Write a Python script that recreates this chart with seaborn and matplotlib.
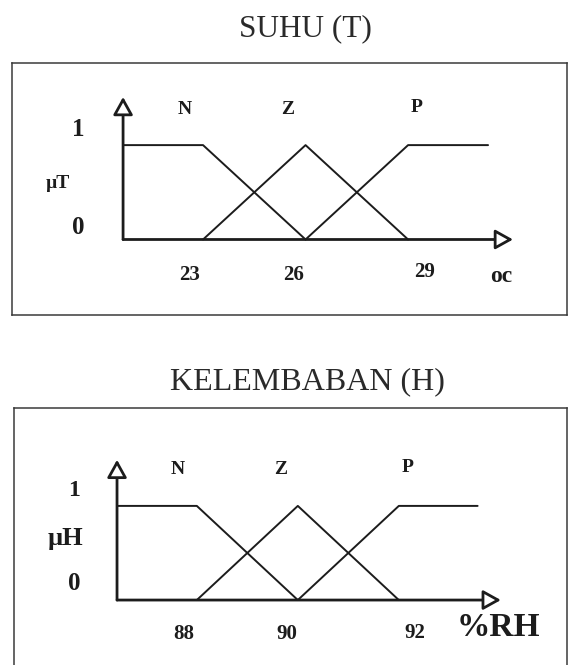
import numpy as np
import pandas as pd
import matplotlib
matplotlib.use("Agg")
import matplotlib.pyplot as plt
import seaborn as sns

# ── Data ──────────────────────────────────────────────────────────────────────
SETS = ["N", "Z", "P"]
N_MU = [1, 1, 0]
Z_MU = [0, 1, 0]
P_MU = [0, 1, 1]

TEMP_TICKS = [23, 26, 29]
TEMP_START, TEMP_END = 20.66, 31.34
TEMP_TICK_LABELS = ["23", "26", "29"]

HUM_TICKS = [88, 90, 92]
HUM_START, HUM_END = 86.42, 93.56
HUM_TICK_LABELS = ["88", "90", "92"]

# ── Config ────────────────────────────────────────────────────────────────────
W, H = 568, 665
INK = "#1c1c1c"
SERIF = ["Liberation Serif", "DejaVu Serif"]

sns.set_theme(style="white")
plt.rcParams["font.family"] = SERIF


def membership_frame(ticks, start, end):
    xs = {"N": [start, ticks[0], ticks[1]],
          "Z": [ticks[0], ticks[1], ticks[2]],
          "P": [ticks[1], ticks[2], end]}
    mus = {"N": N_MU, "Z": Z_MU, "P": P_MU}
    rows = []
    for s in SETS:
        for x, m in zip(xs[s], mus[s]):
            rows.append({"set": s, "x": x, "mu": m})
    return pd.DataFrame(rows)


def ftext(fig, x, y, s, **kw):
    # place text using reference pixel coordinates (origin top-left)
    fig.text(x / W, 1 - y / H, s, ha="center", va="center", **kw)


def draw_panel(fig, rect, ticks, start, end, xlim, ylim, x_tip, y_tip, hide_bottom=False):
    ax = fig.add_axes(rect)
    df = membership_frame(ticks, start, end)
    sns.lineplot(data=df, x="x", y="mu", hue="set", units="set", estimator=None,
                 sort=False, palette={s: INK for s in SETS}, legend=False,
                 linewidth=1.4, ax=ax)
    arrow = dict(arrowstyle="-|>,head_length=0.9,head_width=0.5", mutation_scale=12,
                 fc="white", ec=INK, lw=2.0, shrinkA=0, shrinkB=0)
    ax.annotate("", xy=(x_tip, 0), xytext=(start, 0), arrowprops=arrow)
    ax.annotate("", xy=(start, y_tip), xytext=(start, 0), arrowprops=arrow)
    ax.set_xlim(*xlim)
    ax.set_ylim(*ylim)
    ax.set_xlabel("")
    ax.set_ylabel("")
    ax.set_xticks([])
    ax.set_yticks([])
    for side, sp in ax.spines.items():
        sp.set_color("#3a3a3a")
        sp.set_linewidth(1.1)
    if hide_bottom:
        ax.spines["bottom"].set_visible(False)
    return ax


fig = plt.figure(figsize=(W / 100, H / 100), dpi=100)
fig.patch.set_facecolor("white")

# ── Panel 1: SUHU (T) ─────────────────────────────────────────────────────────
ax1 = draw_panel(fig, [12 / W, 1 - 315 / H, 555 / W, 252 / H],
                 TEMP_TICKS, TEMP_START, TEMP_END,
                 xlim=(17.41, 33.65), ylim=(-0.80, 1.87),
                 x_tip=32.07, y_tip=1.51)

ftext(fig, 305, 29, "SUHU (T)", fontsize=22.5, color="#2a2a2a")
for s, (x, y) in zip(SETS, [(185, 110), (288, 109), (417, 107)]):
    ftext(fig, x, y, s, fontsize=14, fontweight="bold", color=INK)
ftext(fig, 78, 130, "1", fontsize=18, fontweight="bold", color=INK)
ftext(fig, 58, 184, "µT", fontsize=14, fontweight="bold", color=INK)
ftext(fig, 78, 227, "0", fontsize=18, fontweight="bold", color=INK)
for t, lab, dx, dy in zip(TEMP_TICKS, TEMP_TICK_LABELS, [-13, -12, 16], [-36, -36, -33]):
    ax1.annotate(lab, xy=(t, 0), xytext=(dx, dy), textcoords="offset pixels",
                 ha="center", va="center", fontsize=15, fontweight="bold", color=INK)
ftext(fig, 501, 276, "oc", fontsize=17, fontweight="bold", color=INK)

# ── Panel 2: KELEMBABAN (H) ───────────────────────────────────────────────────
ax2 = draw_panel(fig, [14 / W, 0, 553 / W, 257 / H],
                 HUM_TICKS, HUM_START, HUM_END,
                 xlim=(84.38, 95.33), ylim=(-0.69, 2.04),
                 x_tip=94.02, y_tip=1.49, hide_bottom=True)

ftext(fig, 307, 382, "KELEMBABAN (H)", fontsize=23, color="#2a2a2a")
for s, (x, y) in zip(SETS, [(178, 470), (281, 470), (408, 467)]):
    ftext(fig, x, y, s, fontsize=14, fontweight="bold", color=INK)
ftext(fig, 74, 490, "1", fontsize=17, fontweight="bold", color=INK)
ftext(fig, 65, 538, "µH", fontsize=19, fontweight="bold", color=INK)
ftext(fig, 74, 583, "0", fontsize=18, fontweight="bold", color=INK)
for t, lab, dx, dy in zip(HUM_TICKS, HUM_TICK_LABELS, [-13, -11, 16], [-34, -34, -33]):
    ax2.annotate(lab, xy=(t, 0), xytext=(dx, dy), textcoords="offset pixels",
                 ha="center", va="center", fontsize=15, fontweight="bold", color=INK)
ftext(fig, 498, 628, "%RH", fontsize=24, fontweight="bold", color=INK)

fig.savefig("out.png", dpi=100, facecolor="white")
plt.close(fig)
